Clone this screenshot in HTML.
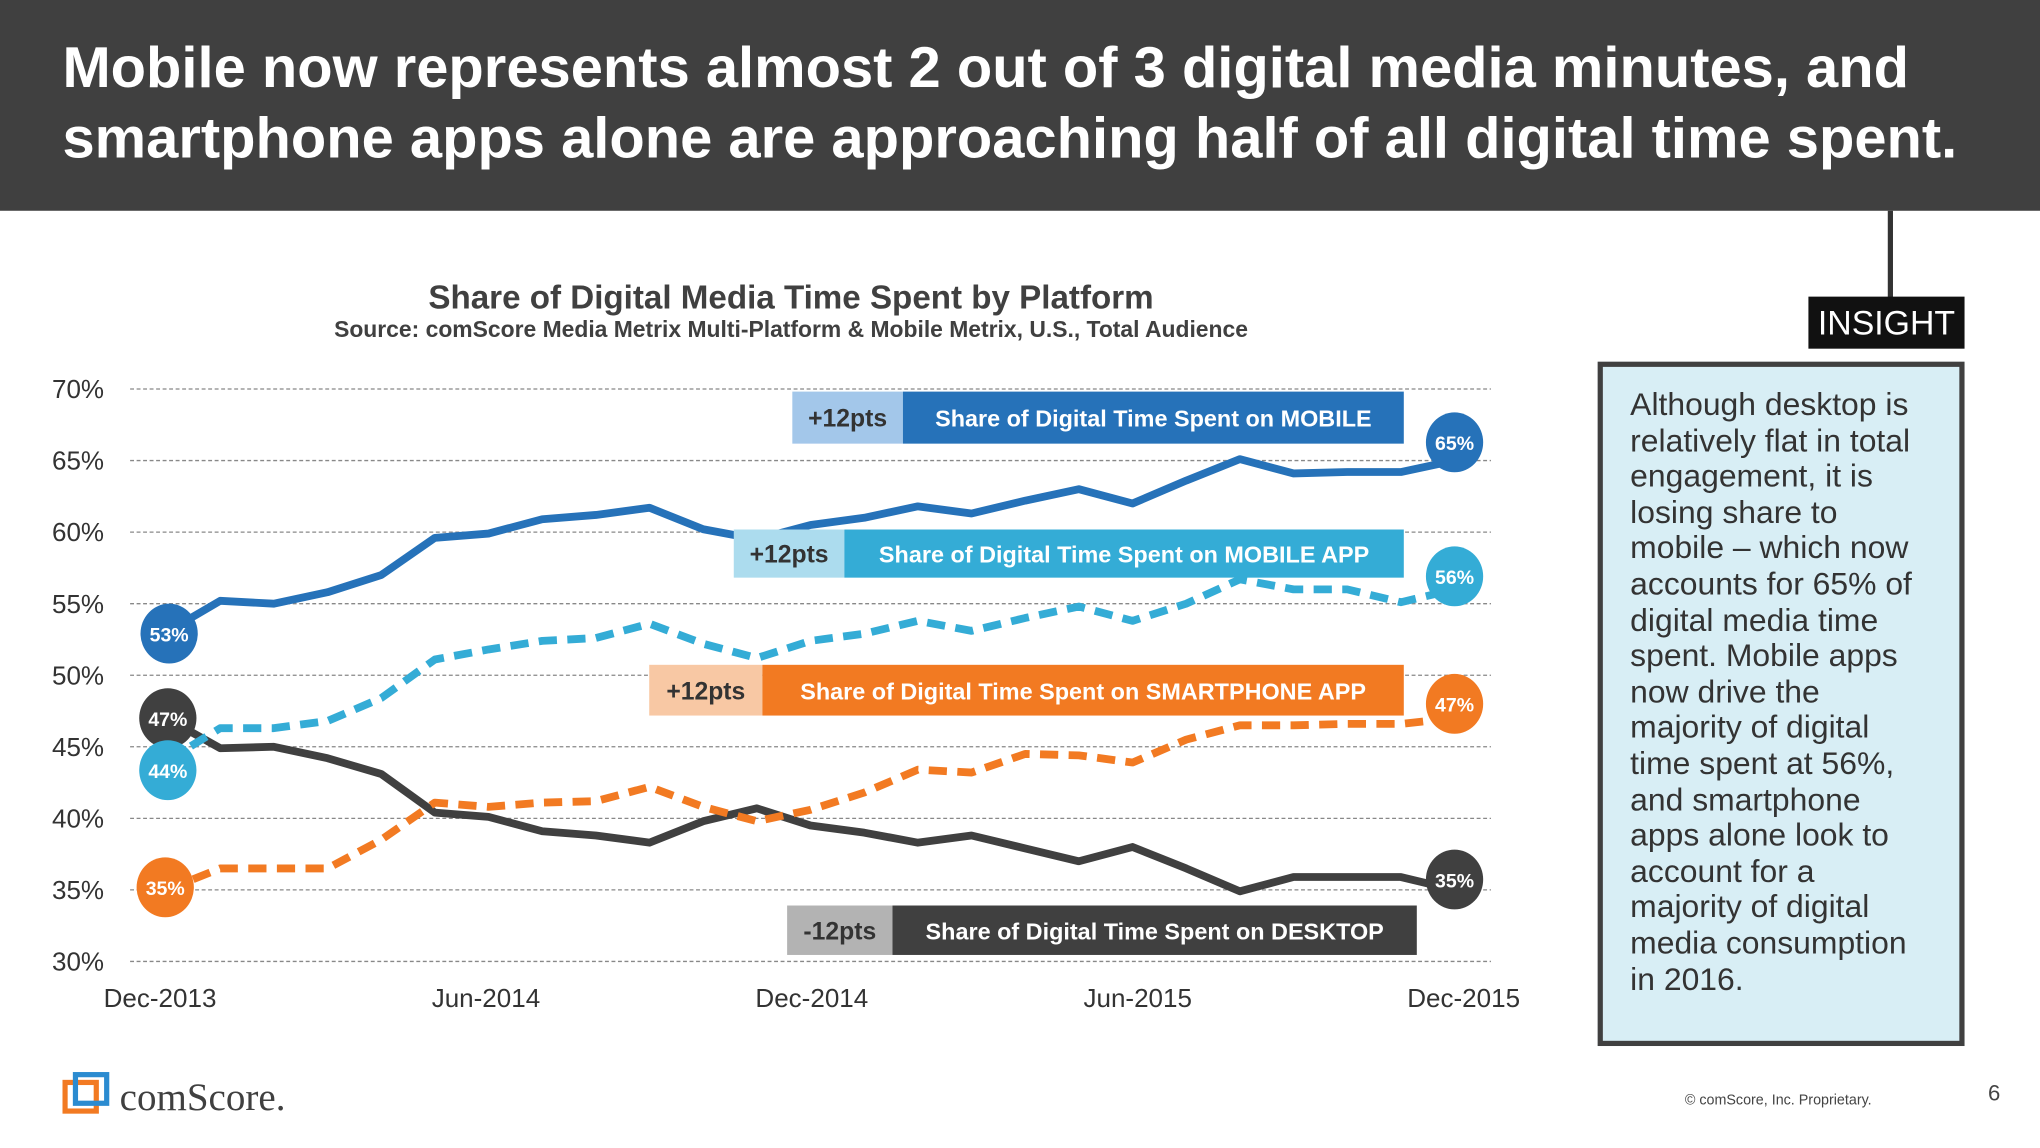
<!DOCTYPE html>
<html><head><meta charset="utf-8"><style>
html,body{margin:0;padding:0;width:2040px;height:1148px;overflow:hidden;background:#fff;font-family:"Liberation Sans",sans-serif}
#wrap{position:absolute;left:0;top:0;width:1568px;height:882px;transform:scale(1.30102);transform-origin:0 0}
#hdr{position:absolute;left:0;top:0;width:1568px;height:162px;background:#404040;color:#fff;font-weight:bold;font-size:44.5px;line-height:54px;padding:26px 0 0 48px;box-sizing:border-box;white-space:nowrap}
#ins-line{position:absolute;left:1451px;top:162px;width:4px;height:68px;background:#333}
#ins-tag{position:absolute;left:1390px;top:228px;width:120px;height:40px;background:#111;color:#fff;font-size:26px;line-height:40px;text-align:center}
#ins-box{position:absolute;left:1228px;top:278px;width:282px;height:526px;border:4px solid #404040;box-sizing:border-box;background:#d8eef5;color:#333;font-size:24.5px;line-height:27.6px;padding:16px 0 0 21px;white-space:nowrap}
#copy{position:absolute;left:1295px;top:840px;font-size:11px;color:#444}
#pg{position:absolute;left:1528px;top:831px;font-size:17px;color:#444}
#logo{position:absolute;left:48px;top:822px}
</style></head><body>
<div id="wrap">
<div id="hdr">Mobile now represents almost 2 out of 3 digital media minutes, and<br>smartphone apps alone are approaching half of all digital time spent.</div>
<svg id="chart" width="1568" height="882" style="position:absolute;left:0;top:0" xmlns="http://www.w3.org/2000/svg">
<text x="608" y="237" text-anchor="middle" font-size="25.5" font-weight="bold" fill="#404040">Share of Digital Media Time Spent by Platform</text>
<text x="608" y="259" text-anchor="middle" font-size="17.6" font-weight="bold" fill="#404040">Source: comScore Media Metrix Multi-Platform &amp; Mobile Metrix, U.S., Total Audience</text>
<g id="grid"></g><g id="xt"></g><g id="lines"></g><g id="legend"></g><g id="dots"></g>
</svg>
<div id="ins-line"></div>
<div id="ins-tag">INSIGHT</div>
<div id="ins-box">Although desktop is<br>relatively flat in total<br>engagement, it is<br>losing share to<br>mobile – which now<br>accounts for 65% of<br>digital media time<br>spent. Mobile apps<br>now drive the<br>majority of digital<br>time spent at 56%,<br>and smartphone<br>apps alone look to<br>account for a<br>majority of digital<br>media consumption<br>in 2016.</div>
<div id="logo">
<svg width="220" height="40"><rect x="2" y="10" width="24" height="22" fill="none" stroke="#f27a22" stroke-width="4"/><rect x="10" y="4" width="24" height="22" fill="none" stroke="#2b8bd0" stroke-width="4"/><text x="44" y="31" font-family="Liberation Serif,serif" font-size="30" fill="#404040">comScore.</text></svg></div>
<div id="copy">© comScore, Inc. Proprietary.</div>
<div id="pg">6</div>
</div>
<script>
const months=["Dec-2013","Jun-2014","Dec-2014","Jun-2015","Dec-2015"];
const yTicks=[30,35,40,45,50,55,60,65,70];
const mobile=[53,55.2,55,55.8,57,59.6,59.9,60.9,61.2,61.7,60.2,59.5,60.5,61,61.8,61.3,62.2,63,62,63.6,65.1,64.1,64.2,64.2,65];
const mobileApp=[44,46.3,46.3,46.8,48.4,51.1,51.8,52.4,52.6,53.6,52.2,51.2,52.4,52.9,53.8,53.1,54,54.8,53.8,55,56.7,56,56,55.1,56];
const smartApp=[35,36.5,36.5,36.5,38.5,41.1,40.8,41.1,41.2,42.2,40.8,39.8,40.6,41.8,43.4,43.2,44.5,44.4,43.9,45.5,46.5,46.5,46.6,46.6,47];
const desktop=[47,44.9,45,44.2,43.1,40.4,40.1,39.1,38.8,38.3,39.8,40.7,39.5,39,38.3,38.8,37.9,37,38,36.5,34.9,35.9,35.9,35.9,35];
const NS="http://www.w3.org/2000/svg";
const X=i=>128+i*(990/24), Y=v=>739-(v-30)*11;
function mk(t,a,p){const e=document.createElementNS(NS,t);for(const k in a)e.setAttribute(k,a[k]);p.appendChild(e);return e;}
const grid=document.getElementById('grid');
yTicks.forEach(v=>{
 const l=mk('line',{x1:100,x2:1146,y1:Y(v),y2:Y(v),stroke:'#888','stroke-width':1,'stroke-dasharray':'3 2'},grid);
 
 
 const t=mk('text',{x:80,y:Y(v)+7,'text-anchor':'end','font-size':20,fill:'#333'},grid);t.textContent=v+'%';
 
 
});
const xt=document.getElementById('xt');
months.forEach((m,i)=>{const t=mk('text',{x:123+i*250.5,y:774,'text-anchor':'middle','font-size':20,fill:'#333'},xt);t.textContent=m;
 
 });
const lines=document.getElementById('lines');
function series(d,c,dash,name){const p=mk('polyline',{points:d.map((v,i)=>X(i)+','+Y(v)).join(' '),fill:'none',stroke:c,'stroke-width':6,'stroke-linejoin':'round','stroke-dasharray':dash?'14 8':'none'},lines);
 
 }
series(desktop,'#404040',false,'desktop-line');
series(smartApp,'#f27a22',true,'smartphone-app-line');
series(mobileApp,'#34acd6',true,'mobile-app-line');
series(mobile,'#2672b9',false,'mobile-line');
const lg=document.getElementById('legend');
function leg(x0,x1,x2,y0,y1,lc,dc,pts,label,name){
 const g=mk('g',{},lg);
 
 
 mk('rect',{x:x0,y:y0,width:x1-x0,height:y1-y0,fill:lc},g);
 mk('rect',{x:x1,y:y0,width:x2-x1,height:y1-y0,fill:dc},g);
 const a=mk('text',{x:(x0+x1)/2,y:(y0+y1)/2+7,'text-anchor':'middle','font-size':19,'font-weight':'bold',fill:'#333'},g);a.textContent=pts;
 const b=mk('text',{x:(x1+x2)/2,y:(y0+y1)/2+7,'text-anchor':'middle','font-size':18,'font-weight':'bold',fill:'#fff'},g);b.textContent=label;}
leg(609,694,1079,301,341,'#a3c7ea','#2672b9','+12pts','Share of Digital Time Spent on MOBILE','legend-mobile');
leg(564,649,1079,407,444,'#acdcee','#34acd6','+12pts','Share of Digital Time Spent on MOBILE APP','legend-mobile-app');
leg(499,586,1079,511,550,'#f8c8a4','#f27a22','+12pts','Share of Digital Time Spent on SMARTPHONE APP','legend-smartphone-app');
leg(605,686,1089,696,734,'#b3b3b3','#404040','-12pts','Share of Digital Time Spent on DESKTOP','legend-desktop');
const dots=document.getElementById('dots');
function dot(x,v,off,c,name){const g=mk('g',{},dots);
 
 
 const cy=Y(v)+off;
 mk('ellipse',{cx:x,cy:cy,rx:22,ry:23,fill:c},g);
 const t=mk('text',{x:x,y:cy+6,'text-anchor':'middle','font-size':15,'font-weight':'bold',fill:'#fff'},g);t.textContent=Math.round(v)+'%';}
const n=mobile.length-1;
dot(130,mobile[0],1,'#2672b9','label-mobile-start');
dot(129,desktop[0],0,'#404040','label-desktop-start');
dot(129,mobileApp[0],7,'#34acd6','label-mobile-app-start');
dot(127,smartApp[0],-2,'#f27a22','label-smartphone-start');
dot(1118,mobile[n],-14,'#2672b9','label-mobile-end');
dot(1118,mobileApp[n],-10,'#34acd6','label-mobile-app-end');
dot(1118,smartApp[n],-11,'#f27a22','label-smartphone-end');
dot(1118,desktop[n],-8,'#404040','label-desktop-end');
</script>
</body></html>
